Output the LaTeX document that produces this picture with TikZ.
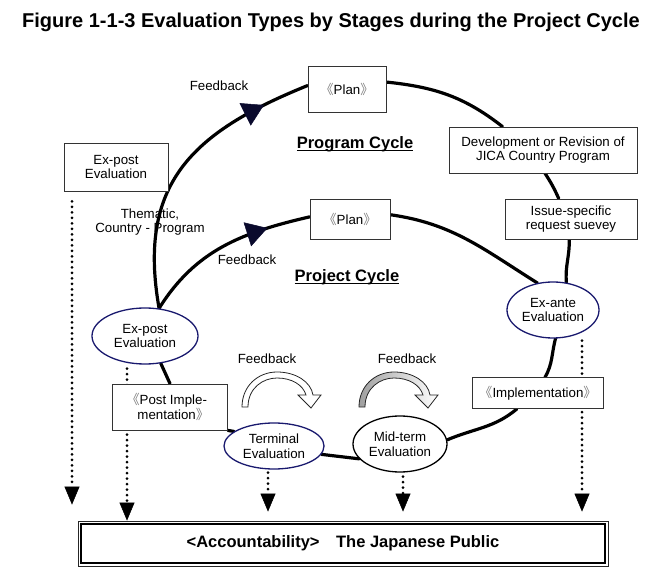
\documentclass[tikz,border=0pt]{standalone}
\usepackage{fontspec}
\setmainfont{Liberation Sans}
\newfontfamily\cjk[RawFeature=+halt]{Noto Sans CJK JP}
\usetikzlibrary{arrows.meta,shapes.geometric,decorations.markings,backgrounds}
\definecolor{evalblue}{RGB}{25,25,110}
\definecolor{inkdark}{RGB}{10,10,45}
\newcommand\bodysize{\fontsize{13.3}{14.5}\selectfont}
\newcommand\headsize{\fontsize{16.5}{19}\selectfont\bfseries}
\newcommand\lbr{{\cjk\color{gray}《}}
\newcommand\rbr{{\cjk\color{gray}》}}
\newcommand\cyclehead[1]{\setbox0\hbox{#1}\rlap{\rule[-3pt]{\wd0}{1.3pt}}\box0}
\tikzset{
    stagebox/.style={
        draw=black!80, line width=0.8pt, fill=white,
        align=center, inner sep=0pt, font=\bodysize
    },
    evalnode/.style={
        ellipse, draw=evalblue, line width=1.3pt, fill=white,
        align=center, inner sep=0pt, font=\bodysize
    },
    cycle line/.style={line width=3.2pt, line cap=round},
    feedback tip/.style={
        postaction=decorate,
        decoration={markings,
        mark=at position #1 with {
            \arrow[color=inkdark]{Triangle[length=21pt,width=25pt,line width=0.5pt]}
        }
        }
    },
    dotted drop/.style={
        line width=3pt, dash pattern=on 0pt off 5.5pt, line cap=round,
        -{Triangle[length=18pt,width=15pt,line width=0.5pt]}
    },
    bend band/.style={draw=black!85, line width=0.8pt, line join=miter},
    plain label/.style={font=\bodysize, inner sep=0pt, align=center}
}

\begin{document}
\begin{tikzpicture}[x=1pt, y=-1pt]
\useasboundingbox (0,0) rectangle (656,577);
\node[font=\fontsize{20}{24}\selectfont\bfseries] (title) at (331,22)
    {Figure 1-1-3 Evaluation Types by Stages during the Project Cycle};

% program cycle stages
\node[stagebox, minimum width=78pt, minimum height=46pt] (progplan) at (347,89) {\lbr Plan\rbr};
\node[stagebox, minimum width=188pt, minimum height=46pt] (devrev) at (543,150)
    {Development or Revision of\\JICA Country Program};
\node[stagebox, minimum width=132pt, minimum height=40pt] (survey) at (571,219)
    {Issue-specific\\request suevey};
\node[stagebox, minimum width=104pt, minimum height=48pt] (expostbox) at (116,167) {Ex-post\\Evaluation};

% project cycle stages
\node[stagebox, minimum width=80pt, minimum height=40pt] (projplan) at (350,219) {\lbr Plan\rbr};
\node[evalnode, minimum width=92pt, minimum height=56pt] (exante) at (553,310) {Ex-ante\\Evaluation};
\node[stagebox, minimum width=131pt, minimum height=31pt] (impl) at (538,393) {\lbr Implementation\rbr};
\node[evalnode, draw=black, minimum width=94pt, minimum height=56pt] (midterm) at (400,444) {Mid-term\\Evaluation};
\node[evalnode, minimum width=100pt, minimum height=46pt] (terminal) at (274,446) {Terminal\\Evaluation};
\node[stagebox, minimum width=115pt, minimum height=46pt] (postimpl) at (170,407) {\lbr Post Imple-\\mentation\rbr};
\node[evalnode, minimum width=106pt, minimum height=56pt] (expost) at (145,336) {Ex-post\\Evaluation};

% accountability
\node[draw=black!85, line width=0.8pt, minimum width=530pt, minimum height=45pt, font=\headsize] (public) at (343,543.5)
    {<Accountability>\quad The Japanese Public};
\draw[line width=1.8pt] ([shift={(3.5,3.5)}]public.north west) rectangle ([shift={(-3.5,-3.5)}]public.south east);

% labels
\node[plain label] (fbprog) at (219,86) {Feedback};
\node[plain label] (fbproj) at (247,260) {Feedback};
\node[plain label] (fbterm) at (267,359) {Feedback};
\node[plain label] (fbmid) at (407,359) {Feedback};
\node[font=\headsize] (progcycle) at (355,144) {\cyclehead{Program Cycle}};
\node[font=\headsize] (projcycle) at (347,277) {\cyclehead{Project Cycle}};
\node[plain label] (thematic) at (150,222) {Thematic,\\Country - Program};

\begin{pgfonlayer}{background}
% the two cycles
\draw[cycle line] (progplan.10) to[out=-6,in=142] (devrev.150);
\draw[cycle line] (devrev.-85) to[out=-57,in=114] (survey.121);
\draw[cycle line] (survey.-95) to[out=-88,in=95] (exante.64);
\draw[cycle line] (exante.-85) to[out=-105,in=60] (impl.66);
\draw[cycle line] (impl.-143) to[out=-140,in=23] (midterm.5);
\draw[cycle line] (midterm.200) -- (terminal.-10);
\draw[cycle line] (terminal.160) -- (postimpl.south east);
\draw[cycle line] (postimpl.north) -- (expost.-60);
\draw[cycle line, feedback tip=0.84] (expost.63) to[out=100,in=202,looseness=1.2] (progplan.175);
\draw[cycle line, feedback tip=0.76] (expost.63) to[out=58,in=193] (projplan.177);
\draw[cycle line] (projplan.6) to[out=-8,in=148] (exante.120);
% dotted drops to the public
\draw[dotted drop, shorten >=16pt] ([xshift=-44pt,yshift=-10pt]expostbox.south) -- ([xshift=-44pt]expostbox.south |- public.north);
\draw[dotted drop] ([xshift=-18pt,yshift=-4pt]expost.south) -- ([xshift=-18pt]expost.south |- public.north);
\draw[dotted drop, shorten >=9pt] ([xshift=-6pt,yshift=-3pt]terminal.south) -- ([xshift=-6pt]terminal.south |- public.north);
\draw[dotted drop, shorten >=9pt] ([xshift=3pt,yshift=-4pt]midterm.south) -- ([xshift=3pt]midterm.south |- public.north);
\draw[dotted drop, shorten >=9pt] ([xshift=29pt,yshift=-2pt]exante.south) -- ([xshift=29pt]exante.south |- public.north);
\end{pgfonlayer}

% feedback bends
\draw[bend band, fill=white] (242,407) .. controls (242,386) and (258,372) .. (277,372)
    .. controls (296,372) and (311,382) .. (313,395) -- (321,395) -- (311,408) -- (298,395) -- (306,395)
    .. controls (303,385) and (292,378) .. (277,378) .. controls (263,378) and (248,388) .. (248,407) -- cycle;
\draw[bend band, left color=gray!75, right color=white, xshift=117pt] (242,407) .. controls (242,386) and (258,372) .. (277,372)
    .. controls (296,372) and (311,382) .. (313,395) -- (321,395) -- (311,408) -- (298,395) -- (306,395)
    .. controls (303,385) and (292,378) .. (277,378) .. controls (263,378) and (248,388) .. (248,407) -- cycle;
\end{tikzpicture}
\end{document}
